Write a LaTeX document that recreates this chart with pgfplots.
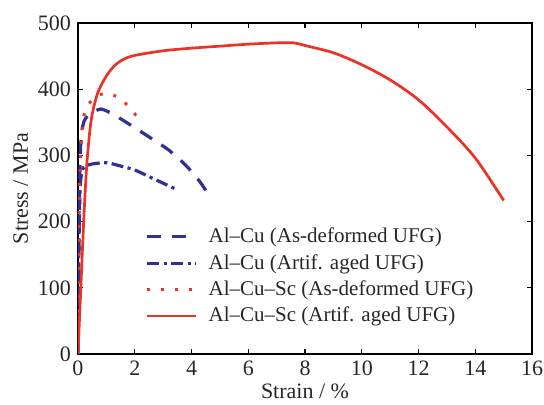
\documentclass[border=0pt]{standalone}
\usepackage{pgfplots}
\pgfplotsset{compat=1.18}
\usepackage{fontspec}
\setmainfont{Liberation Serif}
\definecolor{cblue}{RGB}{48,48,150}
\definecolor{cred}{RGB}{235,50,38}
\begin{document}
\begin{tikzpicture}
\begin{axis}[
  scale only axis,
  width=227pt, height=165.5pt,
  xmin=0, xmax=16, ymin=0, ymax=500,
  xtick={0,2,...,16}, ytick={0,100,...,500},
  tick align=inside,
  major tick length=2.5pt,
  tick style={black, line width=0.6pt},
  axis line style={line width=0.6pt},
  /pgf/number format/assume math mode=true,
  tick label style={font=\fontsize{11}{13}\selectfont, text=black!85},
  label style={font=\fontsize{11}{13}\selectfont, text=black!85},
  xlabel={Strain / \%},
  ylabel={Stress / MPa},
  xlabel style={yshift=3pt},
  ylabel style={yshift=-2pt},
  legend style={at={(axis cs:2.3,200)}, anchor=north west, draw=none, fill=none,
    font=\fontsize{10.5}{12.5}\selectfont, row sep=0.3pt, inner sep=1pt,
    text=black!85},
  legend cell align=left,
  legend image code/.code={\draw[#1] (0cm,0cm) -- (0.85cm,0cm); \path (0.98cm,0cm);},
]
\addplot[cblue, line width=1.6pt, dash pattern=on 7pt off 5.5pt, smooth, tension=0.4] coordinates {
(0,0) (0.03,150) (0.06,260) (0.1,320) (0.2,350) (0.4,362) (0.8,370) (1.2,363) (1.7,350) (2.5,328) (3.2,308) (3.8,285) (4.3,260) (4.65,237)
};
\addlegendentry{Al–Cu (As-deformed UFG)}
\addplot[cblue, line width=1.6pt, dash pattern=on 6pt off 2.2pt on 1.6pt off 2.2pt, smooth, tension=0.4] coordinates {
(0,0) (0.03,150) (0.06,230) (0.1,265) (0.2,282) (0.5,287) (1.0,289) (1.5,284) (2.0,278) (2.5,268) (3.0,258) (3.4,250)
};
\addlegendentry{Al–Cu (Artif. aged UFG)}
\addplot[cred, line width=1.5pt, dash pattern=on 1.5pt off 5.5pt, smooth, tension=0.4] coordinates {
(0,0) (0.03,150) (0.06,260) (0.15,345) (0.3,372) (0.6,388) (1.0,394) (1.5,386) (1.85,370) (2.2,353)
};
\addlegendentry{Al–Cu–Sc (As-deformed UFG)}
\addplot[cred, line width=1.35pt, smooth, tension=0.5] coordinates {
(0,0) (0.1,100) (0.2,200) (0.3,280) (0.4,330) (0.5,362) (0.7,395) (1.0,420) (1.3,436) (1.6,445) (2,451) (3,458) (4,462) (5,465) (6,468) (7,470) (7.6,470) (8,466) (9,455) (10,437) (11,414) (12,384) (13,343) (14,296) (15,232)
};
\addlegendentry{Al–Cu–Sc (Artif. aged UFG)}
\end{axis}
\pgfresetboundingbox
\path ([shift={(-39pt,-25.5pt)}]current axis.south west) rectangle ([shift={(6pt,11.5pt)}]current axis.north east);
\end{tikzpicture}
\end{document}
